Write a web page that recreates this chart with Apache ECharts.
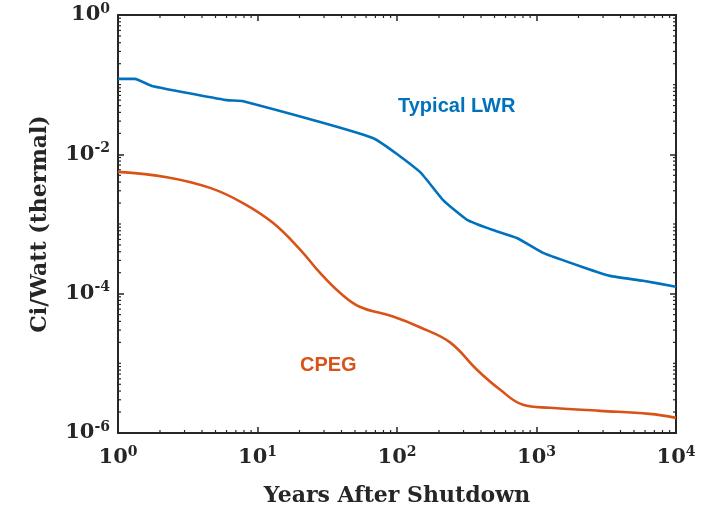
<!DOCTYPE html>
<html>
<head>
<meta charset="utf-8">
<script src="https://cdn.jsdelivr.net/npm/echarts@6/dist/echarts.min.js"></script>
<style>
  html, body { margin: 0; padding: 0; background: #fff; }
  #chart { width: 705px; height: 512px; }
</style>
</head>
<body>
<div id="chart"></div>
<script>
// years after shutdown / Ci per watt (thermal)
const lwrYears = [1, 1.32, 1.75, 6.0, 7.9, 67, 146, 214, 318, 488, 724, 1114, 2154, 3365, 5800, 10000]
const lwrValues = [0.121, 0.121, 0.096, 0.060, 0.058, 0.0172, 0.0056, 0.0022, 0.00115, 8.2e-4, 6.3e-4, 3.85e-4, 2.4e-4, 1.8e-4, 1.53e-4, 1.26e-4]

const cpegYears = [1, 2.24, 4.57, 7.87, 12.9, 20.2, 28, 39, 54, 93.6, 146, 240, 374, 547, 800, 1250, 2850, 6460, 10000]
const cpegValues = [0.0056, 0.0047, 0.0033, 0.0020, 0.00104, 4.3e-4, 2.0e-4, 1.03e-4, 6.5e-5, 4.7e-5, 3.3e-5, 2.0e-5, 8.1e-6, 4.2e-6, 2.54e-6, 2.3e-6, 2.08e-6, 1.88e-6, 1.65e-6]

const xRange = [1, 10000]
const yRange = [1e-6, 1]
// decades that carry minor ticks, and the steps inside each decade
const xDecades = [1, 10, 100, 1000]
const yDecades = [1e-6, 1e-5, 1e-4, 1e-3, 1e-2, 1e-1]
const minorSteps = [2, 3, 4, 5, 6, 7, 8, 9]
const yOddDecades = [1e-5, 1e-3, 1e-1]

const blue = '#0072BD'
const orange = '#D95319'
const ink = '#262626'
const serif = '"DejaVu Serif", "Liberation Serif", serif'

function pairs (xs, ys) {
  return xs.map((x, i) => [x, ys[i]])
}

function minorValues (decades) {
  const out = []
  decades.forEach(d => minorSteps.forEach(s => out.push(d * s)))
  return out
}

function powLabel (v) {
  const e = Math.round(Math.log10(v))
  return '{b|10}{s|' + e + '}'
}

const labelRich = {
  b: { fontFamily: serif, fontWeight: 'bold', fontSize: 21, color: ink },
  s: { fontFamily: serif, fontWeight: 'bold', fontSize: 14, color: ink, verticalAlign: 'top', padding: [0, 0, 12, 0] }
}

const axisLine = { show: true, onZero: false, lineStyle: { color: ink, width: 2 } }
const axisTick = { show: true, inside: true, length: 6, lineStyle: { color: ink, width: 1.5 } }

// minor ticks drawn on both sides of the box through the axis scales
function xMinorTick (params, api) {
  const cs = params.coordSys
  const x = api.coord([api.value(0), yRange[0]])[0]
  const style = { stroke: ink, lineWidth: 1.2 }
  return {
    type: 'group',
    children: [
      { type: 'line', shape: { x1: x, y1: cs.y + cs.height, x2: x, y2: cs.y + cs.height - 3 }, style },
      { type: 'line', shape: { x1: x, y1: cs.y, x2: x, y2: cs.y + 3 }, style }
    ]
  }
}
function yMinorTick (params, api) {
  const cs = params.coordSys
  const y = api.coord([xRange[0], api.value(1)])[1]
  const style = { stroke: ink, lineWidth: 1.2 }
  return {
    type: 'group',
    children: [
      { type: 'line', shape: { x1: cs.x, y1: y, x2: cs.x + 3, y2: y }, style },
      { type: 'line', shape: { x1: cs.x + cs.width, y1: y, x2: cs.x + cs.width - 3, y2: y }, style }
    ]
  }
}

const chart = echarts.init(document.getElementById('chart'))
chart.setOption({
  animation: false,
  backgroundColor: '#fff',
  grid: { left: 118, right: 29, top: 15, bottom: 79 },
  xAxis: [
    {
      type: 'log', logBase: 10, min: xRange[0], max: xRange[1], position: 'bottom',
      axisLine, axisTick, splitLine: { show: false },
      axisLabel: { margin: 12, formatter: powLabel, rich: labelRich },
      name: 'Years After Shutdown', nameLocation: 'middle', nameGap: 52,
      nameTextStyle: { fontFamily: serif, fontWeight: 'bold', fontSize: 22, color: ink }
    },
    {
      type: 'log', logBase: 10, min: xRange[0], max: xRange[1], position: 'top',
      axisLine, axisTick, splitLine: { show: false }, axisLabel: { show: false }
    }
  ],
  yAxis: [
    {
      type: 'log', logBase: 10, min: yRange[0], max: yRange[1], interval: 2, position: 'left',
      axisLine, axisTick, splitLine: { show: false },
      axisLabel: { margin: 8, formatter: powLabel, rich: labelRich },
      name: 'Ci/Watt (thermal)', nameLocation: 'middle', nameGap: 67, nameRotate: 90,
      nameTextStyle: { fontFamily: serif, fontWeight: 'bold', fontSize: 22, color: ink }
    },
    {
      type: 'log', logBase: 10, min: yRange[0], max: yRange[1], interval: 2, position: 'right',
      axisLine, axisTick, splitLine: { show: false }, axisLabel: { show: false }
    }
  ],
  series: [
    {
      type: 'custom', renderItem: xMinorTick, clip: false, silent: true, z: 1,
      data: minorValues(xDecades).map(v => [v, yRange[0]])
    },
    {
      type: 'custom', renderItem: yMinorTick, clip: false, silent: true, z: 1,
      data: minorValues(yDecades).concat(yOddDecades).map(v => [xRange[0], v])
    },
    {
      name: 'Typical LWR', type: 'line', data: pairs(lwrYears, lwrValues),
      showSymbol: false, smooth: 0.15, z: 3, lineStyle: { color: blue, width: 2.6 }
    },
    {
      name: 'CPEG', type: 'line', data: pairs(cpegYears, cpegValues),
      showSymbol: false, smooth: 0.4, z: 3, lineStyle: { color: orange, width: 2.6 }
    }
  ],
  graphic: [
    { type: 'text', left: 398, top: 96, style: { text: 'Typical LWR', fill: blue, font: 'bold 20px "Liberation Sans", Arial, sans-serif' } },
    { type: 'text', left: 300, top: 355, style: { text: 'CPEG', fill: orange, font: 'bold 20px "Liberation Sans", Arial, sans-serif' } }
  ]
})
</script>
</body>
</html>
